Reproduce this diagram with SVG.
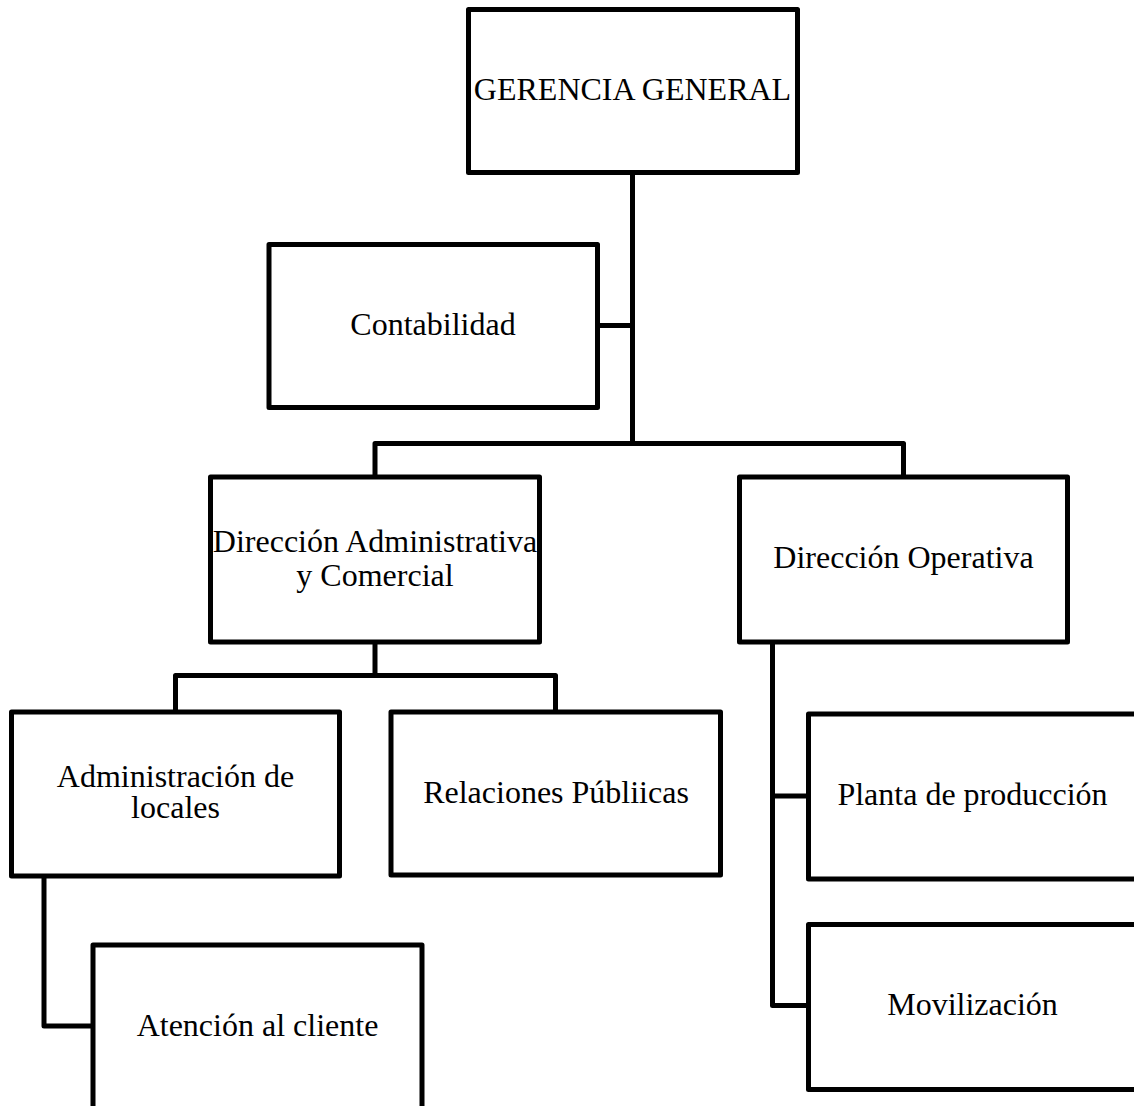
<svg xmlns="http://www.w3.org/2000/svg" width="1134" height="1106" viewBox="0 0 1134 1106">
  <style>
    .box { fill: #ffffff; stroke: #000000; stroke-width: 5; stroke-linejoin: round; }
    .link { fill: none; stroke: #000000; stroke-width: 5; stroke-linejoin: round; }
    .label { font-family: "Liberation Serif", "Times New Roman", serif; font-size: 32px; fill: #000000; text-anchor: middle; }
  </style>
  <rect width="1134" height="1106" fill="#ffffff"/>

  <!-- connectors -->
  <g id="connectors">
    <path class="link" d="M632.5 172.5 V443.5"/>
    <path class="link" d="M597.5 325.5 H632.5"/>
    <path class="link" d="M375 477 V443.5 H903.5 V477"/>
    <path class="link" d="M375 642 V675.5"/>
    <path class="link" d="M175.5 712 V675.5 H555.5 V712"/>
    <path class="link" d="M772.5 642 V1005.5 H808.5"/>
    <path class="link" d="M772.5 796 H808.5"/>
    <path class="link" d="M44 876 V1026 H93"/>
  </g>

  <!-- nodes -->
  <g id="gerencia-general">
    <rect class="box" x="468.5" y="9.5" width="329" height="163"/>
    <text class="label" x="632.5" y="100">GERENCIA GENERAL</text>
  </g>
  <g id="contabilidad">
    <rect class="box" x="269" y="244.5" width="328.5" height="163"/>
    <text class="label" x="433" y="335">Contabilidad</text>
  </g>
  <g id="direccion-administrativa">
    <rect class="box" x="210.5" y="477" width="329" height="165"/>
    <text class="label" x="375" y="552">Dirección Administrativa</text>
    <text class="label" x="375" y="586">y Comercial</text>
  </g>
  <g id="direccion-operativa">
    <rect class="box" x="739.5" y="477" width="328" height="165"/>
    <text class="label" x="903.5" y="568">Dirección Operativa</text>
  </g>
  <g id="administracion-locales">
    <rect class="box" x="11.5" y="712" width="328" height="164"/>
    <text class="label" x="175.5" y="787">Administración de</text>
    <text class="label" x="175.5" y="818">locales</text>
  </g>
  <g id="relaciones-publicas">
    <rect class="box" x="391" y="712" width="329.5" height="163"/>
    <text class="label" x="556" y="803">Relaciones Públiicas</text>
  </g>
  <g id="planta-produccion">
    <rect class="box" x="808.5" y="714" width="330" height="165"/>
    <text class="label" x="972.5" y="805">Planta de producción</text>
  </g>
  <g id="movilizacion">
    <rect class="box" x="808.5" y="924.5" width="330" height="165"/>
    <text class="label" x="972.5" y="1015">Movilización</text>
  </g>
  <g id="atencion-cliente">
    <rect class="box" x="93" y="945" width="329" height="170"/>
    <text class="label" x="257.5" y="1036">Atención al cliente</text>
  </g>
</svg>
